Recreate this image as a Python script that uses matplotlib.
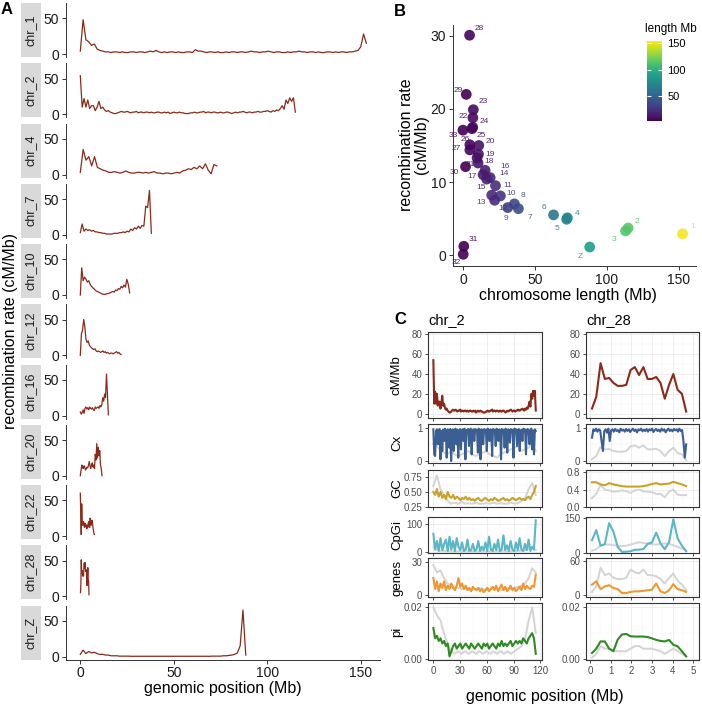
import numpy as np
import matplotlib
matplotlib.use('Agg')
import matplotlib.pyplot as plt
from matplotlib.colors import Normalize
from matplotlib.colorbar import ColorbarBase
from matplotlib.ticker import MultipleLocator, FixedLocator

plt.rcParams['font.family'] = ['Liberation Sans', 'DejaVu Sans']

W, H = 702, 705
REC_COLOR = '#8B2A1A'
GRAY_LINE = '#D4D4D4'

# ---------------- panel A: recombination rate along chromosomes ----------------
chr_names = ['chr_1', 'chr_2', 'chr_4', 'chr_7', 'chr_10', 'chr_12',
             'chr_16', 'chr_20', 'chr_22', 'chr_28', 'chr_Z']
chr_starts = [0, 0, 0, 0, 0, 0, 0, 0, 0, 0.1, 0]
chr_ends = [153, 115, 73, 38, 26.4, 21.8, 15, 11.6, 7.5, 4.65, 88.5]

rec_chr1 = [4, 48, 20, 17, 12, 14, 7, 5, 4, 3,
            3, 2, 3, 3, 2, 3, 2, 2, 3, 3,
            2, 3, 3, 2, 3, 4, 3, 5, 3, 2,
            3, 2, 3, 3, 2, 3, 2, 2, 3, 3,
            2, 6, 4, 4, 3, 2, 3, 3, 2, 3,
            2, 2, 3, 2, 3, 3, 2, 3, 3, 2,
            3, 4, 3, 3, 2, 3, 3, 4, 3, 2,
            3, 3, 2, 2, 3, 2, 3, 3, 4, 3,
            3, 2, 3, 3, 2, 3, 2, 2, 3, 3,
            2, 3, 2, 3, 3, 2, 3, 3, 4, 5,
            10, 28, 15]
rec_chr2 = [54, 10, 22, 10, 20, 8, 12, 12, 5, 10, 18, 8, 10, 6, 4, 5, 3, 2, 1, 1,
            2, 3, 4, 3, 3, 4, 3, 2, 3, 3, 4, 2, 3, 3, 2, 3, 3, 2, 3, 2,
            2, 3, 3, 2, 2, 3, 2, 3, 1, 2, 3, 2, 2, 3, 2, 2, 1, 1, 1, 2,
            2, 3, 2, 2, 3, 3, 4, 2, 3, 3, 2, 3, 3, 2, 2, 3, 2, 2, 3, 3,
            2, 1, 2, 3, 2, 3, 3, 4, 3, 2, 3, 3, 2, 3, 3, 4, 3, 3, 4, 4,
            5, 4, 3, 5, 4, 6, 5, 8, 12, 7, 20, 15, 23, 18, 23, 3]
rec_chr4 = [3, 35, 20, 25, 12, 25, 10, 8, 6, 5, 3, 3, 4, 3, 2, 3, 5, 3, 2, 2,
            3, 3, 2, 3, 2, 3, 4, 2, 2, 1, 2, 2, 1, 2, 3, 2, 5, 6, 8, 7,
            10, 8, 12, 8, 15, 6, 1, 14, 12]
rec_chr7 = [3, 15, 5, 8, 6, 7, 5, 6, 4, 4, 3, 3, 2, 2, 1, 1, 1, 1, 2, 2,
            2, 3, 3, 4, 3, 5, 4, 8, 6, 10, 8, 12, 9, 13, 12, 40, 38, 62, 2]
rec_chr10 = [0, 38, 20, 25, 22, 18, 20, 15, 12, 10, 8, 6, 5, 4, 3, 2, 1, 1,
             1, 2, 2, 3, 4, 5, 4, 7, 6, 9, 8, 12, 10, 14, 11, 22, 15, 3]
rec_chr12 = [0, 30, 35, 50, 40, 22, 18, 20, 14, 12, 10, 9, 8, 9, 6, 5, 6, 5, 4,
             5, 6, 4, 5, 3, 4, 3, 2, 3, 3, 2, 3, 4, 5, 3, 4, 2, 1]
rec_chr16 = [5, 2, 4, 8, 3, 10, 12, 9, 11, 8, 12, 10, 9, 11, 8, 7, 12, 10, 11,
             12, 10, 14, 12, 15, 25, 20, 30, 25, 58, 30, 1]
rec_chr20 = [0, 8, 15, 12, 10, 14, 12, 8, 10, 12, 11, 15, 20, 14, 10, 15, 18,
             12, 15, 10, 30, 22, 45, 25, 40, 28, 35, 15, 10, 0]
rec_chr22 = [60, 30, 2, 45, 20, 15, 18, 20, 15, 12, 18, 14, 16, 12, 10, 15, 12,
             18, 20, 15, 12, 25, 20, 15, 18, 22, 20, 12, 8, 4, 2]
rec_chr28 = [5, 17, 51, 35, 36, 31, 28, 28, 29, 44, 47, 39, 47, 35, 35, 37, 31,
             15, 29, 40, 24, 20, 2]
rec_chrZ = [3, 9, 4, 7, 5, 6, 4, 3, 3, 2, 2, 1, 1, 1, 0.5, 0.5, 0.5, 0.5,
            0.3, 0.3, 0.3, 0.3, 0.3, 0.3, 0.3, 0.3, 0.3, 0.3, 0.3, 0.3, 0.3,
            0.3, 0.3, 0.3, 0.3, 0.3, 0.3, 0.3, 0.3, 0.3, 0.3, 0.3, 0.3, 0.3,
            0.3, 0.3, 0.3, 0.5, 0.5, 0.5, 0.5, 1, 1, 1.5, 2, 3, 5, 15, 65, 2]
rec_tracks = [rec_chr1, rec_chr2, rec_chr4, rec_chr7, rec_chr10, rec_chr12,
              rec_chr16, rec_chr20, rec_chr22, rec_chr28, rec_chrZ]

# ---------------- panel B: rate vs chromosome length ----------------
chrom_ids = ['1', '2', '3', '4', '5', '6', '7', '8', '9', '10', '11', '12',
             '13', '14', '15', '16', '17', '18', '19', '20', '21', '22', '23',
             '24', '25', '26', '27', '28', '29', '30', '31', '32', '33', 'Z']
chrom_length = [152.5, 114.7, 112.9, 72.5, 72.0, 62.9, 38.5, 35.7, 31.1, 26.0,
                22.6, 22.0, 20.0, 18.9, 16.5, 15.4, 14.0, 10.5, 10.8, 11.0,
                9.8, 6.9, 7.2, 6.8, 6.3, 4.8, 4.8, 4.6, 2.3, 1.8, 0.6, 0.2,
                0.0, 88.0]
chrom_rate = [2.9, 3.7, 3.3, 5.1, 4.9, 5.5, 6.35, 7.0, 6.5, 8.1,
              9.5, 7.5, 8.2, 10.6, 10.4, 11.6, 11.0, 12.6, 13.8, 15.0,
              13.3, 18.8, 19.9, 17.5, 17.3, 15.1, 14.4, 30.1, 22.0, 12.1,
              1.2, 0.1, 17.1, 1.1]

# ---------------- panel C: genomic features on chr_2 and chr_28 ----------------
cx_chr2 = [0.95, 0.2, 0.15, 0.9, 0.95, 0.5, 0.92, 0.96, 0.05, 0.9,
           0.3, 0.94, 0.6, 0.97, 0.9, 0.1, 0.95, 0.92, 0.4, 0.96,
           0.0, 0.9, 0.95, 0.3, 0.93, 0.97, 0.5, 0.94, 0.1, 0.9,
           0.96, 0.35, 0.92, 0.95, 0.6, 0.97, 0.05, 0.93, 0.9, 0.96,
           0.45, 0.94, 0.97, 0.2, 0.92, 0.95, 0.6, 0.96, 0.9, 0.94,
           0.25, 0.97, 0.92, 0.05, 0.95, 0.93, 0.5, 0.96, 0.9, 0.94,
           0.3, 0.97, 0.92, 0.6, 0.95, 0.93, 0.15, 0.96, 0.9, 0.94,
           0.45, 0.97, 0.92, 0.6, 0.95, 0.93, 0.05, 0.96, 0.9, 0.94,
           0.4, 0.97, 0.92, 0.25, 0.95, 0.93, 0.55, 0.96, 0.9, 0.94,
           0.1, 0.97, 0.92, 0.95, 0.45, 0.93, 0.96, 0.3, 0.9, 0.94,
           0.6, 0.97, 0.92, 0.95, 0.2, 0.93, 0.96, 0.9, 0.5, 0.94,
           0.97, 0.35, 0.92, 0.2, 0.95, 0.9]
cx_chr2_bg = [0.5, 0.45, 0.3, 0.25, 0.2, 0.3, 0.2, 0.15, 0.2, 0.25, 0.3, 0.2,
              0.15, 0.2, 0.25, 0.3, 0.2, 0.15, 0.1, 0.2, 0.25, 0.3, 0.35, 0.4,
              0.45, 0.3, 0.35, 0.4, 0.5, 0.3]
gc_chr2 = [0.5, 0.45, 0.55, 0.42, 0.5, 0.4, 0.45, 0.38, 0.5, 0.42,
           0.4, 0.45, 0.38, 0.42, 0.4, 0.36, 0.4, 0.38, 0.42, 0.37,
           0.4, 0.36, 0.38, 0.35, 0.38, 0.4, 0.36, 0.35, 0.38, 0.4,
           0.37, 0.35, 0.38, 0.36, 0.4, 0.38, 0.35, 0.36, 0.38, 0.4,
           0.36, 0.38, 0.35, 0.37, 0.4, 0.38, 0.36, 0.38, 0.4, 0.37,
           0.38, 0.36, 0.4, 0.42, 0.38, 0.45, 0.5, 0.6]
gc_chr2_bg = [0.6, 0.78, 0.55, 0.45, 0.35, 0.3, 0.32, 0.3, 0.33, 0.3, 0.31,
              0.3, 0.32, 0.3, 0.3, 0.31, 0.3, 0.32, 0.3, 0.31, 0.3, 0.3, 0.32,
              0.3, 0.31, 0.35, 0.4, 0.55, 0.65, 0.45]
cpg_chr2 = [65, 10, 40, 5, 50, 8, 30, 45, 5, 55, 10, 40, 5, 50, 20, 8, 35, 5,
            10, 45, 5, 8, 30, 5, 10, 40, 5, 20, 8, 35, 5, 55, 10, 5, 30, 8,
            45, 5, 10, 60, 8, 25, 5, 40, 10, 5, 35, 8, 50, 10, 5, 30, 8, 45,
            5, 20, 10, 112]
cpg_chr2_bg = [20, 10, 6, 5, 4, 4, 3, 4, 3, 4, 3, 4, 3, 3, 4, 3, 4, 3, 4, 3,
               4, 3, 4, 4, 5, 6, 8, 12, 18, 8]
genes_chr2 = [15, 5, 12, 3, 10, 6, 12, 4, 8, 5, 10, 6, 4, 8, 15, 7, 10, 5, 8, 4,
              6, 3, 7, 5, 4, 6, 3, 5, 2, 4, 6, 3, 5, 7, 4, 8, 3, 6, 9, 4,
              7, 3, 5, 8, 4, 6, 3, 5, 7, 4, 10, 5, 8, 6, 5, 8, 7, 18]
genes_chr2_bg = [27, 20, 22, 15, 10, 8, 7, 6, 5, 6, 5, 4, 5, 6, 5, 4, 5, 6, 5,
                 4, 5, 6, 5, 6, 7, 8, 10, 15, 24, 20]
pi_chr2 = [0.012, 0.008, 0.009, 0.007, 0.008, 0.006, 0.007, 0.005, 0.006, 0.001,
           0.003, 0.005, 0.006, 0.004, 0.005, 0.006, 0.004, 0.005, 0.006, 0.005,
           0.004, 0.006, 0.005, 0.004, 0.005, 0.006, 0.005, 0.004, 0.006, 0.005,
           0.006, 0.004, 0.005, 0.006, 0.005, 0.004, 0.006, 0.005, 0.007, 0.005,
           0.006, 0.005, 0.006, 0.007, 0.005, 0.006, 0.007, 0.006, 0.007, 0.006,
           0.008, 0.007, 0.006, 0.008, 0.009, 0.01, 0.008, 0.002]
pi_chr2_bg = [0.02, 0.017, 0.015, 0.01, 0.006, 0.003, 0.002, 0.003, 0.002,
              0.003, 0.002, 0.003, 0.002, 0.003, 0.002, 0.003, 0.002, 0.003,
              0.002, 0.003, 0.002, 0.003, 0.002, 0.003, 0.004, 0.005, 0.008,
              0.015, 0.02, 0.01]

cx_chr28 = [0.7, 0.95, 0.9, 0.97, 0.88, 0.95, 0.92, 0.6, 0.3, 0.9,
            0.95, 0.85, 0.97, 0.6, 0.92, 0.95, 0.88, 0.96, 0.9, 0.93,
            0.86, 0.97, 0.91, 0.94, 0.88, 0.96, 0.9, 0.95, 0.87, 0.93,
            0.97, 0.9, 0.94, 0.86, 0.95, 0.92, 0.97, 0.89, 0.94, 0.9,
            0.96, 0.88, 0.95, 0.92, 0.97, 0.87, 0.93, 0.96, 0.9, 0.94,
            0.88, 0.97, 0.91, 0.95, 0.86, 0.93, 0.97, 0.9, 0.94, 0.89,
            0.96, 0.92, 0.95, 0.88, 0.97, 0.9, 0.93, 0.6, 0.1, 0.5]
cx_chr28_bg = [0.05, 0.15, 0.42, 0.35, 0.36, 0.3, 0.28, 0.28, 0.3, 0.44, 0.47,
               0.4, 0.47, 0.35, 0.35, 0.37, 0.3, 0.15, 0.3, 0.4, 0.24, 0.2, 0.02]
gc_chr28 = [0.57, 0.57, 0.52, 0.5, 0.55, 0.52, 0.5, 0.48, 0.47, 0.47, 0.47,
            0.47, 0.48, 0.5, 0.53, 0.55, 0.52, 0.53, 0.54, 0.58, 0.55, 0.52, 0.48]
gc_chr28_bg = [0.2, 0.3, 0.5, 0.4, 0.38, 0.35, 0.36, 0.38, 0.36, 0.32, 0.38,
               0.4, 0.36, 0.35, 0.34, 0.3, 0.3, 0.22, 0.35, 0.4, 0.28, 0.27, 0.27]
cpg_chr28 = [54, 98, 30, 37, 128, 91, 25, 3, 4, 6, 12, 13, 15, 38, 44, 87, 40,
             15, 45, 145, 62, 30, 6]
cpg_chr28_bg = [8, 15, 30, 35, 35, 33, 30, 28, 30, 35, 40, 45, 42, 38, 36, 35,
                38, 40, 38, 32, 25, 18, 8]
genes_chr28 = [18, 24, 10, 15, 17, 12, 10, 3, 3, 5, 6, 6, 7, 8, 9, 20, 6, 3, 8,
               19, 10, 8, 5]
genes_chr28_bg = [5, 15, 48, 35, 38, 30, 28, 28, 30, 45, 40, 38, 45, 35, 35, 33,
                  28, 20, 30, 38, 25, 18, 8]
pi_chr28 = [0.0023, 0.004, 0.0068, 0.0068, 0.004, 0.003, 0.0075, 0.0095,
            0.0097, 0.0088, 0.0087, 0.0087, 0.0087, 0.0085, 0.008, 0.0074,
            0.007, 0.0068, 0.0074, 0.0055, 0.0049, 0.003, 0.001]
pi_chr28_bg = [0.0005, 0.002, 0.005, 0.004, 0.004, 0.003, 0.003, 0.003, 0.003,
               0.004, 0.005, 0.005, 0.004, 0.004, 0.004, 0.0035, 0.003, 0.002,
               0.003, 0.004, 0.003, 0.002, 0.001]


def px_axes(fig, left, top, right, bottom, **kw):
    '''
    Add an axes given by pixel edges (origin top left)
    '''
    return fig.add_axes([left / W, 1 - bottom / H, (right - left) / W, (bottom - top) / H], **kw)


def px_text(fig, x, y, s, **kw):
    fig.text(x / W, 1 - y / H, s, **kw)


def panel_a(fig):
    '''
    Stacked recombination profiles, one facet per chromosome
    '''
    n = len(chr_names)
    for i in range(n):
        top = 3 + 60.25 * i
        bot = top + 54
        ax = px_axes(fig, 66, top, 380, bot)
        vals = rec_tracks[i]
        x = np.linspace(chr_starts[i], chr_ends[i], len(vals))
        ax.plot(x, vals, color=REC_COLOR, lw=0.9)
        ax.set_xlim(-7.65, 160.3)
        ax.set_ylim(-4.2, 71.4)
        for s in ['top', 'right']:
            ax.spines[s].set_visible(False)
        ax.spines['left'].set_color('#333333')
        ax.spines['left'].set_linewidth(0.7)
        ax.set_yticks([0, 50])
        ax.tick_params(axis='y', labelsize=10, length=3, width=0.7,
                       color='#333333', labelcolor='#1A1A1A', pad=2)
        if i == n - 1:
            ax.spines['bottom'].set_color('#333333')
            ax.spines['bottom'].set_linewidth(0.7)
            ax.set_xticks([0, 50, 100, 150])
            ax.tick_params(axis='x', labelsize=10, length=3, width=0.7,
                           color='#333333', labelcolor='#1A1A1A', pad=2)
        else:
            ax.spines['bottom'].set_visible(False)
            ax.set_xticks([])
        # facet strip on the left
        sx = px_axes(fig, 21, top, 41, bot)
        sx.set_facecolor('#D9D9D9')
        sx.set_xticks([])
        sx.set_yticks([])
        for s in sx.spines.values():
            s.set_visible(False)
        sx.text(0.5, 0.5, chr_names[i], rotation=90, ha='center', va='center',
                fontsize=9, color='#1A1A1A', transform=sx.transAxes)
    px_text(fig, 11, 331, 'recombination rate (cM/Mb)', rotation=90,
            ha='center', va='center', fontsize=11.5)
    px_text(fig, 223, 688, 'genomic position (Mb)', ha='center', va='center', fontsize=11.5)
    px_text(fig, 7, 9, 'A', fontsize=12, fontweight='bold', ha='center', va='center')


def panel_b(fig):
    '''
    Mean recombination rate versus chromosome length, coloured by length
    '''
    ax = px_axes(fig, 453, 25, 696, 266)
    norm = Normalize(vmin=2.8, vmax=154.3)
    cmap = plt.get_cmap('viridis')
    ax.scatter(chrom_length, chrom_rate, c=chrom_length, cmap=cmap, norm=norm,
               s=60, alpha=0.9, linewidths=0, zorder=3)
    offsets = {'1': (7, 5), '2': (6, 5), '3': (-8, -6), '4': (7, 3), '5': (-7, -7),
               '6': (-7, 5), '7': (8, -6), '8': (6, 6), '9': (-1, -8), '10': (8, 2),
               '11': (9, 0), '12': (6, -6), '13': (-8, -5), '14': (10, 3),
               '15': (-4, -6), '16': (14, 3), '17': (-8, -1), '18': (8, 1),
               '19': (8, 0), '20': (8, 3), '21': (-5, -5), '22': (-7, 1),
               '23': (7, 6), '24': (8, 4), '25': (7, -5), '26': (-3, 4),
               '27': (-10, 1), '28': (7, 5), '29': (-6, 3), '30': (-8, -4),
               '31': (7, 5), '32': (-5, -6), '33': (-7, -4), 'Z': (-7, -7)}
    for name, lx, ly in zip(chrom_ids, chrom_length, chrom_rate):
        col = cmap(norm(lx))
        ax.annotate(name, (lx, ly), xytext=offsets[name], textcoords='offset points',
                    ha='center', va='center', fontsize=6, color=col, alpha=0.9, zorder=4)
    ax.set_xlim(-6.9, 161.8)
    ax.set_ylim(-1.5, 31.5)
    ax.set_xticks([0, 50, 100, 150])
    ax.set_yticks([0, 10, 20, 30])
    for s in ['top', 'right']:
        ax.spines[s].set_visible(False)
    for s in ['left', 'bottom']:
        ax.spines[s].set_color('#333333')
        ax.spines[s].set_linewidth(0.7)
    ax.tick_params(labelsize=10, length=3, width=0.7, color='#333333',
                   labelcolor='#1A1A1A', pad=2)
    px_text(fig, 568, 295, 'chromosome length (Mb)', ha='center', va='center', fontsize=11.5)
    px_text(fig, 414, 145, 'recombination rate\n(cM/Mb)', rotation=90, ha='center',
            va='center', fontsize=11.5, linespacing=1.0)
    px_text(fig, 400, 11, 'B', fontsize=12, fontweight='bold', ha='center', va='center')

    cax = px_axes(fig, 647, 41, 662, 121)
    cb = ColorbarBase(cax, cmap=cmap, norm=norm, orientation='vertical')
    cb.outline.set_visible(False)
    cb.set_ticks([50, 100, 150])
    cax.tick_params(direction='in', length=3, width=0.8, color='white',
                    left=True, right=True, labelsize=8, pad=4)
    px_text(fig, 645, 29, 'length Mb', ha='left', va='center', fontsize=8.5)


def style_c(ax, xlim, xmajor, xminor, yticks, ylabels, ylim, show_x):
    ax.set_xlim(*xlim)
    ax.set_ylim(*ylim)
    ax.xaxis.set_major_locator(MultipleLocator(xmajor))
    ax.xaxis.set_minor_locator(MultipleLocator(xminor))
    ax.set_yticks(yticks, labels=ylabels)
    mids = [(a + b) / 2 for a, b in zip(yticks[:-1], yticks[1:])]
    ax.yaxis.set_minor_locator(FixedLocator(mids))
    ax.grid(which='major', color='#EBEBEB', lw=0.6)
    ax.grid(which='minor', color='#F4F4F4', lw=0.35)
    ax.set_axisbelow(True)
    for s in ax.spines.values():
        s.set_color('#333333')
        s.set_linewidth(0.8)
    ax.tick_params(which='major', labelsize=7, length=2.5, width=0.6,
                   color='#333333', labelcolor='#4D4D4D', pad=1.5)
    ax.tick_params(which='minor', length=0)
    if not show_x:
        ax.tick_params(axis='x', labelbottom=False)


def panel_c(fig):
    '''
    Recombination and genomic features along chr_2 and chr_28
    '''
    rows = [
        ('cM/Mb', REC_COLOR, rec_chr2, None, rec_chr28, None,
         [0, 20, 40, 60, 80], ['0', '20', '40', '60', '80'], (-4.5, 82.5),
         [0, 20, 40, 60, 80], ['0', '20', '40', '60', '80'], (-4.5, 82.5), 332, 418),
        ('Cx', '#3B5F93', cx_chr2, cx_chr2_bg, cx_chr28, cx_chr28_bg,
         [0, 1], ['0', '1'], (-0.05, 1.11), [0, 1], ['0', '1'], (-0.05, 1.11), 424, 462.7),
        ('GC', '#C9A227', gc_chr2, gc_chr2_bg, gc_chr28, gc_chr28_bg,
         [0.25, 0.5, 0.75], ['0.25', '0.50', '0.75'], (0.28, 0.873),
         [0.0, 0.4, 0.8], ['0.0', '0.4', '0.8'], (0.08, 0.857), 470, 506.7),
        ('CpGi', '#5BB6C8', cpg_chr2, cpg_chr2_bg, cpg_chr28, cpg_chr28_bg,
         [0, 100], ['0', '100'], (-3, 125), [0, 150], ['0', '150'], (-3, 156), 516.7, 553.3),
        ('genes', '#F0982F', genes_chr2, genes_chr2_bg, genes_chr28, genes_chr28_bg,
         [0, 30], ['0', '30'], (-2, 33), [0, 60], ['0', '60'], (-3.5, 65), 558.3, 596.7),
        ('pi', '#2E8B22', pi_chr2, pi_chr2_bg, pi_chr28, pi_chr28_bg,
         [0, 0.02], ['0.00', '0.02'], (-0.0004, 0.0216),
         [0, 0.02], ['0.00', '0.02'], (-0.0004, 0.0216), 603.3, 660),
    ]
    for k, (label, col, lv, lbg, rv, rbg, lt, ltl, lylim, rt, rtl, rylim, top, bot) in enumerate(rows):
        last = k == len(rows) - 1
        axl = px_axes(fig, 428, top, 542, bot)
        if lbg is not None:
            axl.plot(np.linspace(0, 115, len(lbg)), lbg, color=GRAY_LINE, lw=1.4)
        axl.plot(np.linspace(0, 115, len(lv)), lv, color=col, lw=1.5)
        style_c(axl, (-6, 122), 30, 15, lt, ltl, lylim, last)

        axr = px_axes(fig, 586, top, 699, bot)
        if rbg is not None:
            axr.plot(np.linspace(0.1, 4.65, len(rbg)), rbg, color=GRAY_LINE, lw=1.4)
        axr.plot(np.linspace(0.1, 4.65, len(rv)), rv, color=col, lw=1.5)
        style_c(axr, (-0.19, 5.27), 1, 0.5, rt, rtl, rylim, last)

        px_text(fig, 397, (top + bot) / 2, label, rotation=90, ha='center',
                va='center', fontsize=9.5)
    px_text(fig, 428, 320, 'chr_2', ha='left', va='center', fontsize=10.5)
    px_text(fig, 586, 320, 'chr_28', ha='left', va='center', fontsize=10.5)
    px_text(fig, 400, 320, 'C', fontsize=12, fontweight='bold', ha='center', va='center')
    px_text(fig, 545, 697, 'genomic position (Mb)', ha='center', va='center', fontsize=11.5)


def main():
    fig = plt.figure(figsize=(W / 100, H / 100), dpi=100)
    panel_a(fig)
    panel_b(fig)
    panel_c(fig)
    fig.savefig('out.png', dpi=100)


if __name__ == '__main__':
    main()
